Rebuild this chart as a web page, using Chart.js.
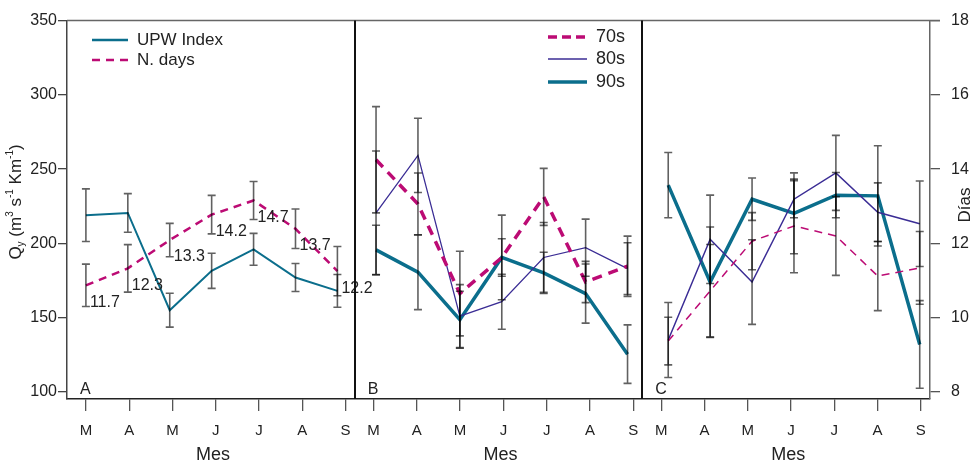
<!DOCTYPE html>
<html>
<head>
<meta charset="utf-8">
<script src="https://cdn.jsdelivr.net/npm/chart.js@4.4.1/dist/chart.umd.min.js"></script>
<style>
    html, body { margin: 0; padding: 0; background: #fff; }
    #wrap { width: 980px; height: 466px; }
</style>
</head>
<body>
<div id="wrap"><canvas id="chart" width="980" height="466"></canvas></div>
<script>
const months = ['M', 'A', 'M', 'J', 'J', 'A', 'S'];

// Panel A: UPW Index (Qy) y N. days
const upwIndex = [219, 220.5, 155, 181.5, 196, 177, 168];
const upwErr = [17.7, 13, 11.4, 11.8, 10.7, 9.4, 11];
const nDays = [11.7, 12.3, 13.3, 14.2, 14.7, 13.7, 12.2];
const nDaysErr = [0.75, 0.84, 0.59, 0.68, 0.67, 0.70, 0.87];

// Panel B: Qy por década
const qy70s = [256.3, 226.5, 166.2, 190.5, 231.3, 174, 184.6];
const qy70sErr = [35.8, 20.9, 28.5, 12.6, 19.2, 13.9, 20.3];
const qy80s = [220.5, 259.2, 151, 160.7, 190.5, 197.1, 183];
const qy80sErr = [41.7, 25.0, 21.2, 18.5, 23.5, 19.2, 17.4];
const qy90s = [195.6, 180.6, 148.6, 190.5, 180.1, 166.2, 125.4];
const qy90sErr = [16.6, 25.2, 19.2, 28.5, 13.9, 19.9, 19.7];

// Panel C: días por década
const dias70s = [9.37, 10.72, 12.06, 12.47, 12.20, 11.12, 11.34];
const dias70sErr = [0.64, 1.25, 0.77, 1.26, 1.06, 0.93, 0.98];
const dias80s = [9.40, 12.11, 10.96, 13.19, 13.90, 12.84, 12.53];
const dias80sErr = [1.01, 1.19, 1.14, 0.50, 1.01, 0.79, 1.15];
const dias90s = [13.57, 10.96, 13.19, 12.81, 13.30, 13.28, 9.28];
const dias90sErr = [0.88, 1.48, 0.57, 1.09, 0.61, 1.35, 1.18];

const leftTicks = [100, 150, 200, 250, 300, 350];
const rightTicks = [8, 10, 12, 14, 16, 18];

const FONT = '"Liberation Sans", Arial, sans-serif';
const TEAL = '#0b6e8c';
const MAGENTA = '#bc0b74';
const PURPLE = '#3b2d95';
const INK = '#222';

// cada panel ocupa 7 unidades del eje x
const pointStart = [0.46, 0.52, 0.63];

function pts(values, panel) {
    return values.map((v, i) => ({ x: panel * 7 + pointStart[panel] + i * 1.02, y: v }));
}

const tickValues = [];
for (let p = 0; p < 3; p++) {
    for (let i = 0; i < 7; i++) {
        tickValues.push(p * 7 + 0.46 + i * 1.053);
    }
}

function line(label, values, panel, axis, color, width, dash, err) {
    return {
        label: label,
        data: pts(values, panel),
        yAxisID: axis,
        borderColor: color,
        borderWidth: width,
        borderDash: dash || [],
        pointRadius: 0,
        fill: false,
        tension: 0,
        err: err
    };
}

const datasets = [
    line('UPW Index', upwIndex, 0, 'y', TEAL, 2, null, upwErr),
    Object.assign(line('N. days', nDays, 0, 'yA', MAGENTA, 2.5, [8, 6], nDaysErr), { showValues: true }),
    line('70s', qy70s, 1, 'y', MAGENTA, 3.5, [10, 7], qy70sErr),
    line('80s', qy80s, 1, 'y', PURPLE, 1.3, null, qy80sErr),
    line('90s', qy90s, 1, 'y', TEAL, 3.5, null, qy90sErr),
    line('70s', dias70s, 2, 'y2', MAGENTA, 1.5, [8, 6], dias70sErr),
    line('80s', dias80s, 2, 'y2', PURPLE, 1.5, null, dias80sErr),
    line('90s', dias90s, 2, 'y2', TEAL, 3.5, null, dias90sErr),
];

function drawRich(ctx, parts, cx, cy) {
    let total = 0;
    parts.forEach(p => {
        ctx.font = p.size + 'px ' + FONT;
        p.w = ctx.measureText(p.t).width;
        total += p.w;
    });
    let x = cx - total / 2;
    ctx.textAlign = 'left';
    ctx.textBaseline = 'middle';
    parts.forEach(p => {
        ctx.font = p.size + 'px ' + FONT;
        ctx.fillText(p.t, x, cy + (p.dy || 0));
        x += p.w;
    });
}

function legendItem(ctx, x0, x1, y, color, width, dash, text) {
    ctx.save();
    ctx.strokeStyle = color;
    ctx.lineWidth = width;
    ctx.setLineDash(dash || []);
    ctx.beginPath();
    ctx.moveTo(x0, y);
    ctx.lineTo(x1, y);
    ctx.stroke();
    ctx.restore();
    ctx.fillStyle = INK;
    ctx.textAlign = 'left';
    ctx.textBaseline = 'middle';
    ctx.fillText(text, x1 + 9, y);
}

const decor = {
    id: 'decor',
    afterDraw(chart) {
        const ctx = chart.ctx;
        const area = chart.chartArea;
        const xs = chart.scales.x;

        // barras de error
        ctx.save();
        ctx.strokeStyle = 'rgba(0,0,0,0.62)';
        ctx.lineWidth = 1.6;
        chart.data.datasets.forEach(ds => {
            if (!ds.err) return;
            const ys = chart.scales[ds.yAxisID];
            ds.data.forEach((pt, i) => {
                const px = xs.getPixelForValue(pt.x);
                const top = ys.getPixelForValue(pt.y + ds.err[i]);
                const bot = ys.getPixelForValue(pt.y - ds.err[i]);
                ctx.beginPath();
                ctx.moveTo(px, top);
                ctx.lineTo(px, bot);
                ctx.moveTo(px - 4, top);
                ctx.lineTo(px + 4, top);
                ctx.moveTo(px - 4, bot);
                ctx.lineTo(px + 4, bot);
                ctx.stroke();
            });
        });
        ctx.restore();

        // valores de N. days
        ctx.save();
        ctx.fillStyle = INK;
        ctx.font = '16px ' + FONT;
        ctx.textAlign = 'left';
        ctx.textBaseline = 'middle';
        chart.data.datasets.forEach(ds => {
            if (!ds.showValues) return;
            const ys = chart.scales[ds.yAxisID];
            ds.data.forEach(pt => {
                ctx.fillText(pt.y.toFixed(1), xs.getPixelForValue(pt.x) + 4, ys.getPixelForValue(pt.y) + 17);
            });
        });
        ctx.restore();

        ctx.save();
        // linea superior
        ctx.strokeStyle = '#666';
        ctx.lineWidth = 1.5;
        ctx.beginPath();
        ctx.moveTo(area.left, area.top);
        ctx.lineTo(area.right + 10, area.top);
        ctx.stroke();

        // separadores de paneles
        ctx.strokeStyle = '#111';
        ctx.lineWidth = 2;
        [7, 14].forEach(v => {
            const px = Math.round(xs.getPixelForValue(v));
            ctx.beginPath();
            ctx.moveTo(px, area.top);
            ctx.lineTo(px, area.bottom);
            ctx.stroke();
        });

        // letras de panel y titulos "Mes"
        ctx.fillStyle = INK;
        ctx.font = '16px ' + FONT;
        ctx.textAlign = 'left';
        ctx.textBaseline = 'middle';
        ['A', 'B', 'C'].forEach((l, p) => {
            ctx.fillText(l, xs.getPixelForValue(p * 7) + 13, area.bottom - 9);
        });
        ctx.font = '18px ' + FONT;
        ctx.textAlign = 'center';
        [0, 1, 2].forEach(p => {
            ctx.fillText('Mes', xs.getPixelForValue(p * 7 + 3.55), 455);
        });

        // leyendas
        ctx.font = '17px ' + FONT;
        legendItem(ctx, 92, 128, 40, TEAL, 2.5, null, 'UPW Index');
        legendItem(ctx, 92, 128, 60, MAGENTA, 2.5, [8, 6], 'N. days');
        ctx.font = '18px ' + FONT;
        legendItem(ctx, 548, 587, 37, MAGENTA, 3.5, [9, 5], '70s');
        legendItem(ctx, 548, 587, 59, PURPLE, 1.3, null, '80s');
        legendItem(ctx, 548, 587, 82, TEAL, 3.5, null, '90s');

        // titulo eje izquierdo
        ctx.save();
        ctx.translate(16, 202);
        ctx.rotate(-Math.PI / 2);
        ctx.fillStyle = INK;
        drawRich(ctx, [
            { t: 'Q', size: 17 },
            { t: 'y', size: 10, dy: 5 },
            { t: ' (m', size: 17 },
            { t: '3', size: 10, dy: -6 },
            { t: ' s', size: 17 },
            { t: '-1', size: 10, dy: -6 },
            { t: ' Km', size: 17 },
            { t: '-1', size: 10, dy: -6 },
            { t: ')', size: 17 }
        ], 0, 0);
        ctx.restore();

        // titulo eje derecho
        ctx.save();
        ctx.translate(965, 205);
        ctx.rotate(-Math.PI / 2);
        ctx.fillStyle = INK;
        ctx.font = '17px ' + FONT;
        ctx.textAlign = 'center';
        ctx.textBaseline = 'middle';
        ctx.fillText('Días', 0, 0);
        ctx.restore();

        ctx.restore();
    }
};

new Chart(document.getElementById('chart'), {
    type: 'line',
    data: { datasets: datasets },
    options: {
        responsive: false,
        animation: false,
        devicePixelRatio: 1,
        layout: { padding: { top: 14, left: 0, right: 0, bottom: 0 } },
        plugins: {
            legend: { display: false },
            tooltip: { enabled: false }
        },
        scales: {
            x: {
                type: 'linear',
                min: 0,
                max: 21,
                afterBuildTicks: scale => { scale.ticks = tickValues.map(v => ({ value: v })); },
                afterFit: scale => { scale.height = 67; },
                ticks: {
                    callback: (v, i) => months[i % 7],
                    autoSkip: false,
                    maxRotation: 0,
                    color: INK,
                    padding: 11,
                    font: { family: FONT, size: 15 }
                },
                grid: { drawOnChartArea: false, drawTicks: true, tickLength: 12, color: '#555', lineWidth: 1.3 },
                border: { display: true, color: '#222', width: 1.5 }
            },
            y: {
                position: 'left',
                min: 95.2,
                max: 350,
                afterBuildTicks: scale => { scale.ticks = leftTicks.map(v => ({ value: v })); },
                afterFit: scale => { scale.width = 67; },
                ticks: { color: INK, padding: 1, font: { family: FONT, size: 16 } },
                grid: { drawOnChartArea: false, tickLength: 9, color: '#444', lineWidth: 1.3 },
                border: { display: true, color: '#444', width: 1.5 }
            },
            y2: {
                position: 'right',
                min: 7.81,
                max: 18,
                afterBuildTicks: scale => { scale.ticks = rightTicks.map(v => ({ value: v })); },
                afterFit: scale => { scale.width = 50; },
                ticks: { color: INK, padding: 11, font: { family: FONT, size: 16 } },
                grid: { drawOnChartArea: false, tickLength: 10, color: '#555', lineWidth: 1.3 },
                border: { display: true, color: '#666', width: 1.5 }
            },
            yA: {
                display: false,
                min: 7.677,
                max: 21.065
            }
        }
    },
    plugins: [decor]
});
</script>
</body>
</html>
